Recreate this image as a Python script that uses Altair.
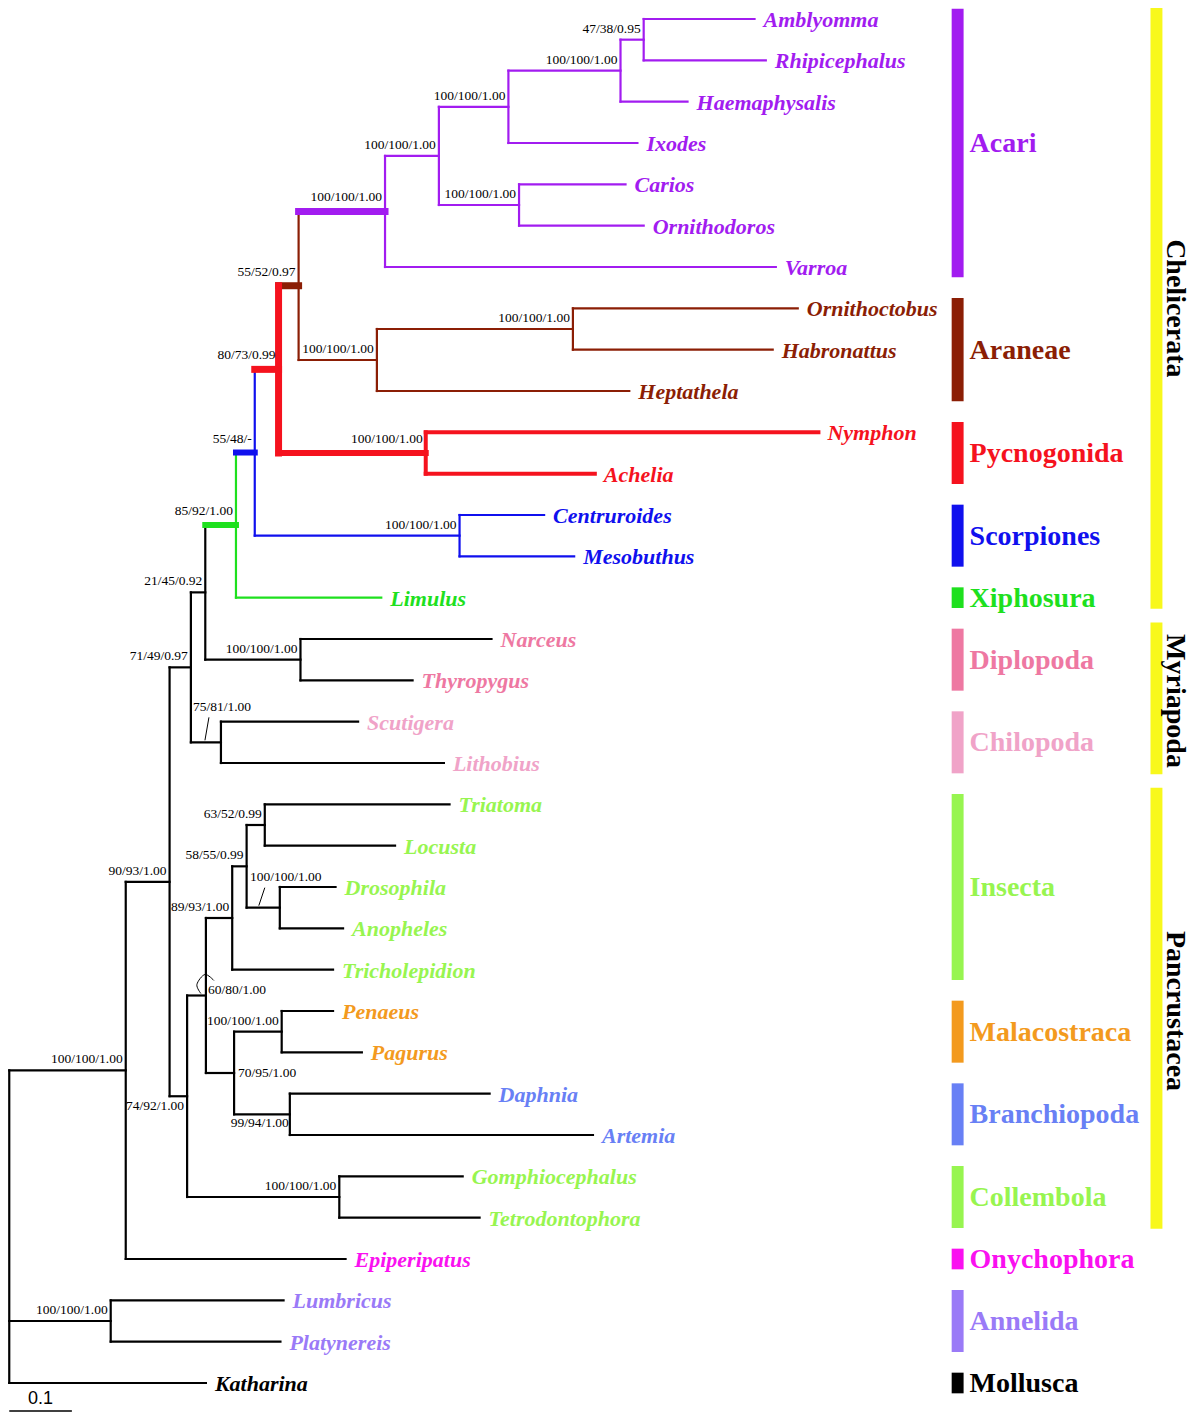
import altair as alt
import pandas as pd

# ---------------- data ----------------
# tips, top to bottom
leaf_names = ["Amblyomma", "Rhipicephalus", "Haemaphysalis", "Ixodes", "Carios", "Ornithodoros", "Varroa",
              "Ornithoctobus", "Habronattus", "Heptathela", "Nymphon", "Achelia", "Centruroides", "Mesobuthus",
              "Limulus", "Narceus", "Thyropygus", "Scutigera", "Lithobius", "Triatoma", "Locusta", "Drosophila",
              "Anopheles", "Tricholepidion", "Penaeus", "Pagurus", "Daphnia", "Artemia", "Gomphiocephalus",
              "Tetrodontophora", "Epiperipatus", "Lumbricus", "Platynereis", "Katharina"]
leaf_parent = ["amb_rhi", "amb_rhi", "ahr", "ixo", "arg", "arg", "acari",
               "orn_hab", "orn_hab", "aran", "pyc", "pyc", "sco", "sco",
               "chel", "dip", "dip", "chi", "chi", "tri_loc", "tri_loc", "dipt",
               "dipt", "ins", "mal", "mal", "bra", "bra", "col",
               "col", "panart", "ann", "ann", "root"]
# distance from root (substitutions per site)
leaf_depth = [1.190, 1.208, 1.083, 1.003, 0.984, 1.013, 1.224,
              1.259, 1.219, 0.990, 1.292, 0.935, 0.854, 0.902,
              0.594, 0.770, 0.644, 0.557, 0.694, 0.703, 0.616, 0.521,
              0.533, 0.517, 0.517, 0.563, 0.767, 0.932, 0.724,
              0.751, 0.537, 0.438, 0.433, 0.314]

# internal nodes
node_ids = ["root", "panart", "ann", "arth", "mch", "chd", "chel", "n5548", "n8073", "n5552",
            "acari", "acr", "ixo", "ahr", "amb_rhi", "arg", "aran", "orn_hab", "pyc", "sco",
            "dip", "chi", "pan", "n6080", "ins", "n5855", "tri_loc", "dipt", "n7095", "mal", "bra", "col"]
node_parent = ["", "root", "root", "panart", "arth", "mch", "chd", "chel", "n5548", "n8073",
               "n5552", "acari", "acr", "ixo", "ahr", "acr", "n5552", "aran", "n8073", "n5548",
               "chd", "mch", "arth", "pan", "n6080", "ins", "n5855", "n5855", "n6080", "n7095", "n7095", "pan"]
node_depth = [0.000, 0.186, 0.162, 0.256, 0.290, 0.313, 0.362, 0.392, 0.430, 0.462,
              0.600, 0.686, 0.797, 0.976, 1.013, 0.814, 0.587, 0.900, 0.665, 0.719,
              0.465, 0.338, 0.284, 0.314, 0.356, 0.379, 0.408, 0.432, 0.359, 0.435, 0.448, 0.527]
node_support = ["", "100/100/1.00", "100/100/1.00", "90/93/1.00", "71/49/0.97", "21/45/0.92", "85/92/1.00",
                "55/48/-", "80/73/0.99", "55/52/0.97",
                "100/100/1.00", "100/100/1.00", "100/100/1.00", "100/100/1.00", "47/38/0.95", "100/100/1.00",
                "100/100/1.00", "100/100/1.00", "100/100/1.00", "100/100/1.00",
                "100/100/1.00", "75/81/1.00", "74/92/1.00", "60/80/1.00", "89/93/1.00", "58/55/0.99",
                "63/52/0.99", "100/100/1.00", "70/95/1.00", "100/100/1.00", "99/94/1.00", "100/100/1.00"]

clade_names = ["Acari", "Araneae", "Pycnogonida", "Scorpiones", "Xiphosura", "Diplopoda", "Chilopoda",
               "Insecta", "Malacostraca", "Branchiopoda", "Collembola", "Onychophora", "Annelida", "Mollusca"]
clade_first = [0, 7, 10, 12, 14, 15, 17, 19, 24, 26, 28, 30, 31, 33]
clade_last = [6, 9, 11, 13, 14, 16, 18, 23, 25, 27, 29, 30, 32, 33]
clade_colors = ["#A21CF0", "#8B1E05", "#F5121E", "#1010EE", "#1EE01E", "#EE78A2", "#F0A3C8",
                "#97F550", "#F39A1E", "#6880F5", "#97F550", "#FA10F0", "#9A7AF7", "#000000"]

super_names = ["Chelicerata", "Myriapoda", "Pancrustacea"]
super_first = [0, 15, 19]
super_last = [14, 18, 29]

scale_bar = [0.0, 0.1]
scale_text = "0.1"

# ---------------- layout / style ----------------
W, H = 1184, 1406
TOP, LAST = 11, 1375             # plot px of first / last tip
STEP = (LAST - TOP) / 33.0       # px between tips
XD = [-0.002, 1.8885]
YD = [-TOP / STEP, (H - TOP) / STEP]
PXU_X = W / (XD[1] - XD[0])      # plot px per unit
PXU_Y = H / (YD[1] - YD[0])      # plot px per tip step


def px_x(orig):
    return (orig / 630.0 - XD[0]) * PXU_X


PURPLE, BROWN, RED, BLUE, GREEN = clade_colors[:5]
THIN = 2.2
SUB = {"acari": (PURPLE, THIN), "aran": (BROWN, THIN), "pyc": (RED, 4), "sco": (BLUE, THIN)}
STEM = {"acari": (PURPLE, 7), "n5552": (BROWN, 7), "n8073": (RED, 7), "n5548": (BLUE, 6),
        "chel": (GREEN, 6), "pyc": (RED, 6), "Limulus": (GREEN, THIN)}
VERT = {"n5552": (BROWN, THIN), "n8073": (RED, 7), "n5548": (BLUE, THIN), "chel": (GREEN, THIN)}
THICK = {"acari", "n5552", "n8073", "n5548", "chel", "pyc"}
LABEL_POS = {"chi": ("center", 1, -35), "dipt": ("center", 6, -31), "n6080": ("left", 2, -6),
             "n7095": ("left", 4, 0), "bra": ("right", -1, 9), "pan": ("right", -3, 10)}
POINTERS = {"chi": [(-12, -25), (-16, -2)],
            "dipt": [(-15, -20), (-21, -2)],
            "n6080": [(8, -15), (-1, -21), (-9, -11), (-5, -2)]}

# ---------------- tree geometry ----------------
parent = dict(zip(node_ids, node_parent))
parent.update(zip(leaf_names, leaf_parent))
depth = dict(zip(node_ids, node_depth))
depth.update(zip(leaf_names, leaf_depth))
children = {n: [] for n in node_ids}
for n in node_ids:
    if parent[n]:
        children[parent[n]].append(n)
for l in leaf_names:
    children[parent[l]].append(l)
ypos = {l: i for i, l in enumerate(leaf_names)}


def gety(n):
    if n in ypos:
        return ypos[n]
    ys = [gety(c) for c in children[n]]
    ypos[n] = (min(ys) + max(ys)) / 2.0
    return ypos[n]


gety("root")


def inherited(n):
    m = n
    while m:
        if m in SUB:
            return SUB[m]
        m = parent.get(m, "")
    return ("#000000", THIN)


segs = []
for n in node_ids + leaf_names:
    p = parent[n]
    if p:
        c, w = STEM.get(n, inherited(n))
        segs.append(dict(x=depth[p], x2=depth[n], y=ypos[n], y2=ypos[n], color=c, w=w))
for n in node_ids:
    ys = [ypos[c] for c in children[n]]
    c, w = VERT.get(n, inherited(n))
    segs.append(dict(x=depth[n], x2=depth[n], y=min(ys), y2=max(ys), color=c, w=w))
seg_df = pd.DataFrame(segs).sort_values("w", kind="stable").reset_index(drop=True)
seg_df["k"] = range(len(seg_df))

xs = alt.Scale(domain=XD, nice=False, zero=False)
ys_ = alt.Scale(domain=YD, nice=False, zero=False, reverse=True)

branches = alt.Chart(seg_df).mark_rule(strokeCap="square").encode(
    x=alt.X("x:Q", scale=xs, axis=None), x2="x2:Q",
    y=alt.Y("y:Q", scale=ys_, axis=None), y2="y2:Q",
    color=alt.Color("color:N", scale=None),
    strokeWidth=alt.StrokeWidth("w:Q", scale=None),
    detail="k:N")

# tip labels
leaf_color = {}
for name, f, l, c in zip(clade_names, clade_first, clade_last, clade_colors):
    for i in range(f, l + 1):
        leaf_color[leaf_names[i]] = c
leaf_df = pd.DataFrame({"name": leaf_names, "x": leaf_depth, "y": list(range(len(leaf_names))),
                        "color": [leaf_color[n] for n in leaf_names]})
tips = alt.Chart(leaf_df).mark_text(align="left", baseline="middle", dx=9, dy=1,
                                    font="Liberation Serif", fontSize=22,
                                    fontStyle="italic", fontWeight="bold").encode(
    x=alt.X("x:Q", scale=xs, axis=None), y=alt.Y("y:Q", scale=ys_, axis=None),
    text="name:N", color=alt.Color("color:N", scale=None))

# support labels
rows = []
for n, s in zip(node_ids, node_support):
    if not s:
        continue
    anchor, dx, dy = LABEL_POS.get(n, ("right", -3, -14 if n in THICK else -11))
    rows.append(dict(t=s, a=anchor, x=depth[n] + dx / PXU_X, y=ypos[n] + dy / PXU_Y))
sup_df = pd.DataFrame(rows)
sup_layers = []
for anchor in ["right", "left", "center"]:
    sub = sup_df[sup_df["a"] == anchor]
    if len(sub):
        sup_layers.append(alt.Chart(sub).mark_text(align=anchor, baseline="middle",
                                                   font="Liberation Serif", fontSize=13.5,
                                                   color="#000000").encode(
            x=alt.X("x:Q", scale=xs, axis=None), y=alt.Y("y:Q", scale=ys_, axis=None), text="t:N"))

prow = []
for n, pts in POINTERS.items():
    for k, (dx, dy) in enumerate(pts):
        prow.append(dict(id=n, o=k, x=depth[n] + dx / PXU_X, y=ypos[n] + dy / PXU_Y))
ptr_df = pd.DataFrame(prow)
pointers = alt.Chart(ptr_df).mark_line(color="#000000", strokeWidth=1, interpolate="cardinal").encode(
    x=alt.X("x:Q", scale=xs, axis=None), y=alt.Y("y:Q", scale=ys_, axis=None),
    detail="id:N", order="o:Q")

# clade bars and names
cl_df = pd.DataFrame({"name": clade_names, "color": clade_colors,
                      "y1": [f - 0.25 for f in clade_first], "y2": [l + 0.25 for l in clade_last],
                      "ym": [(f + l) / 2.0 for f, l in zip(clade_first, clade_last)]})
cl_bars = alt.Chart(cl_df).mark_rect().encode(
    x=alt.value(px_x(948)), x2=alt.value(px_x(960)),
    y=alt.Y("y1:Q", scale=ys_, axis=None), y2="y2:Q",
    color=alt.Color("color:N", scale=None))
cl_text = alt.Chart(cl_df).mark_text(align="left", baseline="middle", font="Liberation Serif",
                                     fontSize=28, fontWeight="bold", dy=1).encode(
    x=alt.value(px_x(966)), y=alt.Y("ym:Q", scale=ys_, axis=None), text="name:N",
    color=alt.Color("color:N", scale=None))

sp_df = pd.DataFrame({"name": super_names,
                      "y1": [f - 0.4 for f in super_first], "y2": [l + 0.27 for l in super_last],
                      "ym": [(f + l) / 2.0 for f, l in zip(super_first, super_last)]})
sp_bars = alt.Chart(sp_df).mark_rect(color="#F8F81C").encode(
    x=alt.value(px_x(1148)), x2=alt.value(px_x(1160)),
    y=alt.Y("y1:Q", scale=ys_, axis=None), y2="y2:Q")
sp_text = alt.Chart(sp_df).mark_text(angle=90, align="center", baseline="middle",
                                     font="Liberation Serif", fontSize=28, fontWeight="bold",
                                     color="#000000").encode(
    x=alt.value(px_x(1173)), y=alt.Y("ym:Q", scale=ys_, axis=None), text="name:N")

# scale bar
SB_Y = (H - 3 - TOP) / STEP
sb_df = pd.DataFrame({"x0": [scale_bar[0]], "x1": [scale_bar[1]], "y": [SB_Y],
                      "xm": [(scale_bar[0] + scale_bar[1]) / 2], "t": [scale_text]})
sb_rule = alt.Chart(sb_df).mark_rule(color="#000000", strokeWidth=1.5).encode(
    x=alt.X("x0:Q", scale=xs, axis=None), x2="x1:Q", y=alt.Y("y:Q", scale=ys_, axis=None))
sb_text = alt.Chart(sb_df).mark_text(align="center", baseline="bottom", dy=-3,
                                     font="Liberation Sans", fontSize=18, color="#000000").encode(
    x=alt.X("xm:Q", scale=xs, axis=None), y=alt.Y("y:Q", scale=ys_, axis=None), text="t:N")

chart = alt.layer(branches, pointers, *sup_layers, tips, cl_bars, cl_text, sp_bars, sp_text,
                  sb_rule, sb_text).properties(
    width=W, height=H, padding=0, background="#FFFFFF",
    autosize=alt.AutoSizeParams(type="none")
).configure_view(stroke=None)

chart.save("out.html", embed_options={"renderer": "svg", "actions": False})
